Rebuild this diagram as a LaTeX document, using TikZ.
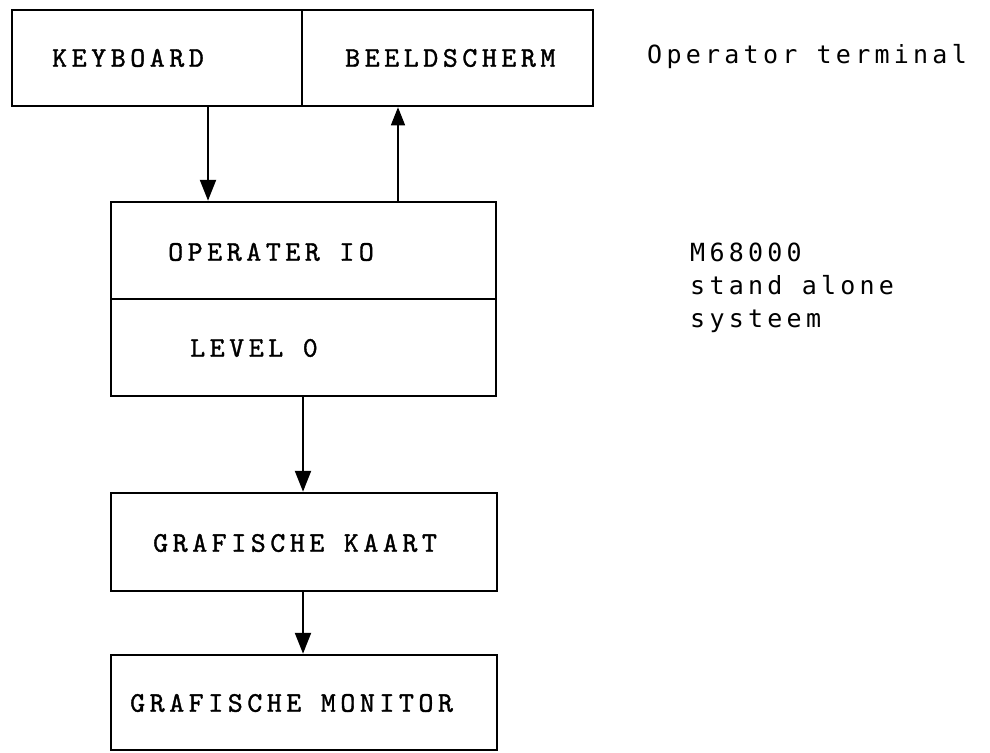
\documentclass[tikz,border=0pt]{standalone}
\usepackage{fontspec}
\usetikzlibrary{arrows.meta}
\newfontfamily\sidefont[LetterSpace=17]{DejaVu Sans Mono}
\newfontfamily\boxfont[LetterSpace=16,FakeBold=1.3]{lmmono10-regular.otf}
\tikzset{
  box/.style={draw, line width=2.5pt, minimum width=#1, inner sep=0pt},
  lbl/.style={anchor=west, inner sep=0pt, font=\boxfont\fontsize{28.5}{30}\selectfont},
  side/.style={anchor=west, inner sep=0pt, align=left, font=\sidefont\fontsize{25}{33}\selectfont},
  arr/.style={line width=2.3pt, -{Triangle[length=21pt,width=16pt]}},
  arrthin/.style={line width=1.3pt, -{Triangle[length=18pt,width=14pt]}}
}
\begin{document}
\begin{tikzpicture}[x=1pt,y=-1pt]
\useasboundingbox (0,0) rectangle (990,752);
% boxes
\node[box=290pt, minimum height=96pt] (kb) at (157,58) {};
\node[box=291pt, minimum height=96pt] (bs) at (447.5,58) {};
\node[box=385pt, minimum height=97pt] (io) at (303.5,250.5) {};
\node[box=385pt, minimum height=97pt] (lv) at (303.5,347.5) {};
\node[box=386pt, minimum height=98pt] (gk) at (304,542) {};
\node[box=386pt, minimum height=95pt] (gm) at (304,702.5) {};
% labels
\node[lbl] (tkb) at (52,58) {KEYBOARD};
\node[lbl] (tbs) at (345,58) {BEELDSCHERM};
\node[lbl] (tio) at (168,252) {OPERATER IO};
\node[lbl] (tlv) at (190,348) {LEVEL 0};
\node[lbl] (tgk) at (153,543) {GRAFISCHE KAART};
\node[lbl] (tgm) at (130,703) {GRAFISCHE MONITOR};
\node[side] (ot) at (647,57) {Operator terminal};
\node[side, anchor=north west] (m68) at (690,243) {M68000\\stand alone\\systeem};
% arrows
\coordinate (kx) at (208,0);
\coordinate (bx) at (398,0);
\coordinate (cx) at (303,0);
\draw[arr] (kb.south -| kx) -- (io.north -| kx);
\draw[arrthin] (io.north -| bx) -- (bs.south -| bx);
\draw[arr] (lv.south -| cx) -- (gk.north -| cx);
\draw[arr] (gk.south -| cx) -- (gm.north -| cx);
\end{tikzpicture}
\end{document}
